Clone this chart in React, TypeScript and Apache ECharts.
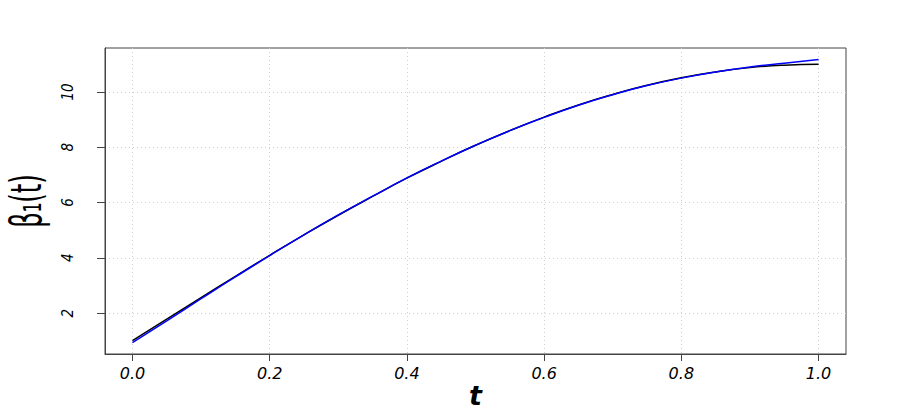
import React, { useEffect, useRef } from "react";
import * as echarts from "echarts";

const tValues = [0, 0.05, 0.1, 0.15, 0.2, 0.25, 0.3, 0.35, 0.4, 0.45, 0.5, 0.55, 0.6, 0.65, 0.7, 0.75, 0.8, 0.85, 0.9, 0.95, 1.0];
const trueBeta = [1.0, 1.78, 2.56, 3.33, 4.09, 4.83, 5.54, 6.22, 6.88, 7.49, 8.07, 8.6, 9.09, 9.53, 9.91, 10.24, 10.51, 10.72, 10.88, 10.97, 11.0];
const estBeta = [0.93, 1.72, 2.52, 3.31, 4.08, 4.83, 5.55, 6.23, 6.89, 7.5, 8.07, 8.6, 9.08, 9.52, 9.9, 10.23, 10.5, 10.72, 10.9, 11.04, 11.17];
const xTicks = [0, 0.2, 0.4, 0.6, 0.8, 1.0];
const xTickLabels = ["0.0", "0.2", "0.4", "0.6", "0.8", "1.0"];
const yTicks = [2, 4, 6, 8, 10];
const yTickLabels = ["2", "4", "6", "8", "10"];
const xTitle = "t";
const yTitle = "β₁(t)";

const FRAME = "#444444";
const GRIDC = "#cfcfcf";

export default function App() {
  const ref = useRef<HTMLDivElement>(null);
  useEffect(() => {
    if (!ref.current) return;
    const chart = echarts.init(ref.current, undefined, { renderer: "svg" });
    const pair = (ys: number[]) => tValues.map((t, i) => [t, ys[i]]);
    chart.setOption({
      animation: false,
      backgroundColor: "#ffffff",
      grid: {
        left: 105,
        right: 54,
        top: 48,
        bottom: 61,
        show: true,
        borderColor: FRAME,
        borderWidth: 1,
        backgroundColor: "transparent",
        containLabel: false,
        outerBoundsMode: "none",
      },
      graphic: [
        {
          type: "text",
          x: 26,
          y: 201,
          rotation: Math.PI / 2,
          scaleX: 1,
          scaleY: 1.6,
          style: {
            text: yTitle,
            fontFamily: "DejaVu Sans Condensed, DejaVu Sans",
            fontSize: 27,
            fill: "#000",
            textAlign: "center",
            textVerticalAlign: "middle",
          },
        },
      ],
      xAxis: {
        type: "value",
        min: -0.04,
        max: 1.04,
        position: "bottom",
        name: xTitle,
        nameLocation: "middle",
        nameGap: 28,
        nameMoveOverlap: false,
        nameTextStyle: {
          fontFamily: "DejaVu Sans",
          fontStyle: "italic",
          fontWeight: "bold",
          fontSize: 27,
          color: "#000",
        },
        axisLine: { show: true, onZero: false, lineStyle: { color: FRAME, width: 1 } },
        axisTick: {
          show: true,
          length: 7,
          inside: false,
          customValues: xTicks,
          lineStyle: { color: FRAME, width: 1 },
        },
        axisLabel: {
          customValues: xTicks,
          margin: 11,
          fontFamily: "DejaVu Sans",
          fontStyle: "italic",
          fontSize: 16,
          color: "#000",
          formatter: (v: number) => {
            const i = xTicks.findIndex((x) => Math.abs(x - v) < 1e-9);
            return i >= 0 ? xTickLabels[i] : "";
          },
        },
        splitLine: {
          show: true,
          lineStyle: { color: GRIDC, width: 1, type: [1, 3] },
        },
      },
      yAxis: {
        type: "value",
        min: 0.52,
        max: 11.59,
        position: "left",
        axisLine: { show: true, onZero: false, lineStyle: { color: FRAME, width: 1 } },
        axisTick: {
          show: true,
          length: 8,
          inside: false,
          customValues: yTicks,
          lineStyle: { color: FRAME, width: 1 },
        },
        axisLabel: {
          customValues: yTicks,
          rotate: 90,
          margin: 30,
          fontFamily: "DejaVu Sans Condensed, DejaVu Sans",
          fontStyle: "italic",
          fontSize: 15,
          color: "#000",
          formatter: (v: number) => {
            const i = yTicks.findIndex((y) => Math.abs(y - v) < 1e-9);
            return i >= 0 ? yTickLabels[i] : "";
          },
        },
        splitLine: {
          show: true,
          lineStyle: { color: GRIDC, width: 1, type: [1, 3] },
        },
      },
      series: [
        {
          type: "line",
          name: "true",
          data: pair(trueBeta),
          smooth: true,
          showSymbol: false,
          symbol: "none",
          lineStyle: { color: "#000000", width: 1.5 },
          z: 2,
        },
        {
          type: "line",
          name: "estimate",
          data: pair(estBeta),
          smooth: true,
          showSymbol: false,
          symbol: "none",
          lineStyle: { color: "#0000ff", width: 1.5 },
          z: 3,
        },
      ],
    });
    return () => chart.dispose();
  }, []);
  return (
    <div
      ref={ref}
      style={{ position: "fixed", left: 0, top: 0, width: 900, height: 415 }}
    />
  );
}
